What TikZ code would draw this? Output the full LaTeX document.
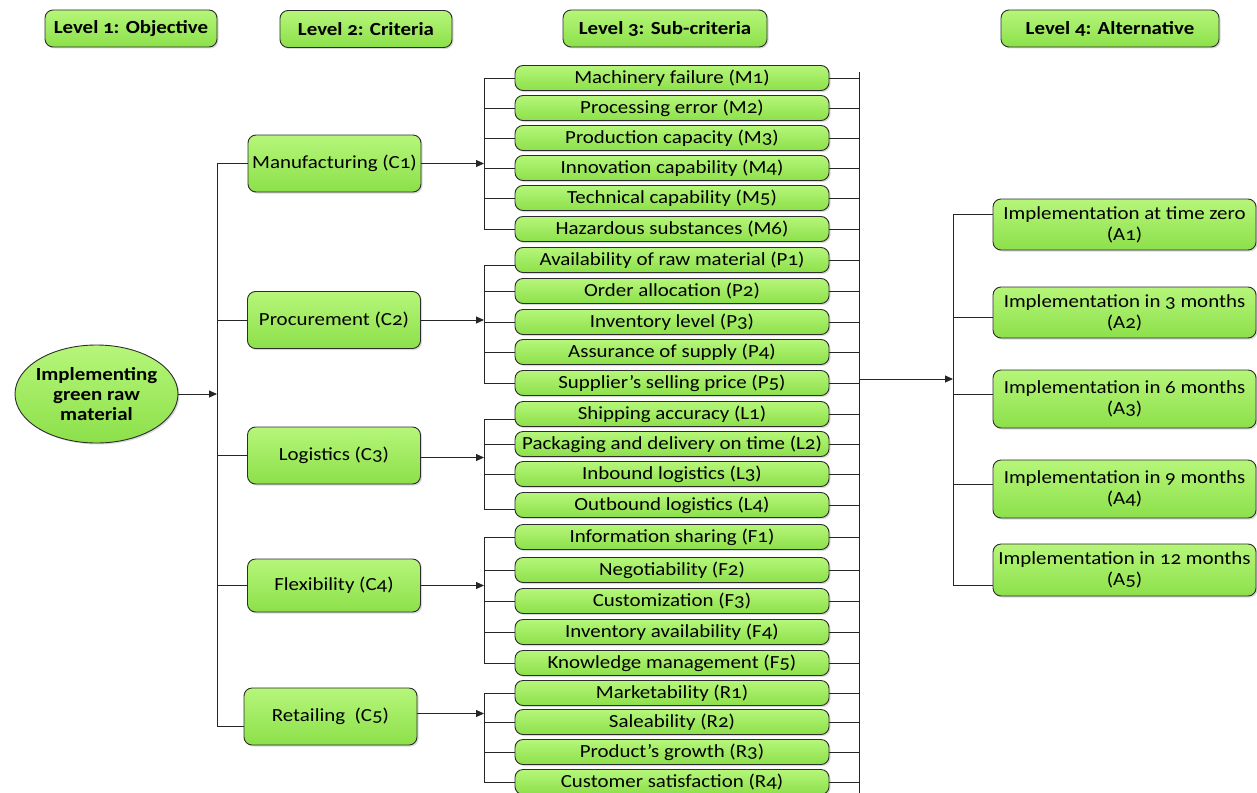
\documentclass[tikz,border=0pt]{standalone}
\usepackage{fontspec}
\setmainfont{Carlito}[Numbers=OldStyle,FakeStretch=1.13]
\usetikzlibrary{arrows.meta,shapes.geometric,shadows}
\definecolor{gtop}{RGB}{182,246,122}
\definecolor{gbot}{RGB}{140,224,74}
\definecolor{edgec}{RGB}{45,45,45}
\begin{document}
\begin{tikzpicture}[x=1pt,y=-1pt,
  box/.style={draw=edgec, line width=0.9pt, rounded corners=8pt, top color=gtop, bottom color=gbot,
    align=center, inner sep=0pt, font=\fontsize{18.5}{21}\selectfont,
    drop shadow={shadow xshift=1.5pt, shadow yshift=-1.5pt, opacity=0.3}},
  hdr/.style={box, font=\bfseries\fontsize{18.5}{21}\selectfont, minimum height=37pt},
  crit/.style={box, minimum width=173pt, minimum height=57pt},
  sub/.style={box, minimum width=314pt, minimum height=25pt},
  alt/.style={box, minimum width=263pt},
  conn/.style={draw=black!85, line width=1pt},
  arr/.style={conn, -{Triangle[length=8pt,width=7pt]}}]
\useasboundingbox (0,0) rectangle (1257,792);
% headers
\node[hdr, minimum width=172pt] (H1) at (131,28.5) {Level 1: Objective};
\node[hdr, minimum width=172pt] (H2) at (366,29) {Level 2: Criteria};
\node[hdr, minimum width=204pt] (H3) at (665,28.5) {Level 3: Sub-criteria};
\node[hdr, minimum width=218pt] (H4) at (1110,28.5) {Level 4: Alternative};
% objective
\node[box, ellipse, inner sep=-8pt, minimum width=163pt, minimum height=98pt, font=\bfseries\fontsize{18.5}{20}\selectfont] (obj) at (96.5,394) {Implementing\\green raw\\material};
% criteria
\node[crit] (C1) at (334.5,163.5) {Manufacturing (C1)};
\node[crit] (C2) at (334,320) {Procurement (C2)};
\node[crit] (C3) at (334,455.5) {Logistics (C3)};
\node[crit, minimum height=53pt] (C4) at (334,585.5) {Flexibility (C4)};
\node[crit] (C5) at (330.5,716.5) {Retailing\ \ (C5)};
% sub-criteria
\foreach \n/\yy/\t in {
  M1/78/{Machinery failure (M1)}, M2/108/{Processing error (M2)}, M3/138/{Production capacity (M3)},
  M4/168/{Innovation capability (M4)}, M5/198/{Technical capability (M5)}, M6/229/{Hazardous substances (M6)},
  P1/260/{Availability of raw material (P1)}, P2/291/{Order allocation (P2)}, P3/322/{Inventory level (P3)},
  P4/352/{Assurance of supply (P4)}, P5/383/{Supplier’s selling price (P5)},
  L1/414/{Shipping accuracy (L1)}, L2/444/{Packaging and delivery on time (L2)}, L3/474/{Inbound logistics (L3)},
  L4/505/{Outbound logistics (L4)},
  F1/537/{Information sharing (F1)}, F2/570/{Negotiability (F2)}, F3/601/{Customization (F3)},
  F4/632/{Inventory availability (F4)}, F5/663/{Knowledge management (F5)},
  R1/693/{Marketability (R1)}, R2/722/{Saleability (R2)}, R3/752/{Product’s growth (R3)},
  R4/782/{Customer satisfaction (R4)}}
  \node[sub] (\n) at (672,\yy) {\t};
% alternatives
\node[alt, minimum height=51pt] (A1) at (1124.5,224.5) {Implementation at time zero\\(A1)};
\node[alt, minimum height=51pt] (A2) at (1124.5,312.5) {Implementation in 3 months\\(A2)};
\node[alt, minimum height=58pt] (A3) at (1124.5,399) {Implementation in 6 months\\(A3)};
\node[alt, minimum height=58pt] (A4) at (1124.5,489) {Implementation in 9 months\\(A4)};
\node[alt, minimum height=52pt] (A5) at (1124.5,570) {Implementation in 12 months\\(A5)};
% bracket coordinates
\coordinate (b1) at (217,0);
\coordinate (b2) at (484,0);
\coordinate (b3) at (859,0);
\coordinate (b4) at (953,0);
% level 1 -> criteria
\draw[arr] (obj.east) -- (obj.east -| b1);
\draw[conn] (b1 |- C1) -- ([yshift=-10pt]b1 |- C5);
\foreach \c in {C1,C2,C3,C4} \draw[conn] (b1 |- \c) -- (\c.west);
\draw[conn] ([yshift=-10pt]b1 |- C5) -- ([yshift=-10pt]C5.west);
% criteria -> sub-criteria
\draw[arr] (C1.east) -- (C1.east -| b2);
\draw[conn] (b2 |- M1) -- (b2 |- M6);
\foreach \s in {M1,M2,M3,M4,M5,M6} \draw[conn] (b2 |- \s) -- (\s.west);
\draw[arr] (C2.east) -- (C2.east -| b2);
\draw[conn] ([yshift=-5pt]b2 |- P1) -- (b2 |- P5);
\draw[conn] ([yshift=-5pt]b2 |- P1) -- ([yshift=-5pt]P1.west);
\foreach \s in {P2,P3,P4,P5} \draw[conn] (b2 |- \s) -- (\s.west);
\draw[arr] ([yshift=-2pt]C3.east) -- ([yshift=-2pt]C3.east -| b2);
\draw[conn] ([yshift=-5pt]b2 |- L1) -- ([yshift=-4pt]b2 |- L4);
\draw[conn] ([yshift=-5pt]b2 |- L1) -- ([yshift=-5pt]L1.west);
\foreach \s in {L2,L3} \draw[conn] (b2 |- \s) -- (\s.west);
\draw[conn] ([yshift=-4pt]b2 |- L4) -- ([yshift=-4pt]L4.west);
\draw[arr] (C4.east) -- (C4.east -| b2);
\draw[conn] (b2 |- F1) -- (b2 |- F5);
\foreach \s in {F1,F2,F3,F4,F5} \draw[conn] (b2 |- \s) -- (\s.west);
\draw[arr] ([yshift=3pt]C5.east) -- ([yshift=3pt]C5.east -| b2);
\draw[conn] (b2 |- R1) -- (b2 |- R4);
\foreach \s in {R1,R2,R3,R4} \draw[conn] (b2 |- \s) -- (\s.west);
% sub-criteria -> right bracket
\draw[conn] ([yshift=6pt]b3 |- M1) -- ([yshift=-12pt]b3 |- R4);
\foreach \s in {M1,M2,M3,M4,M5,M6,P1,P2,P3,P4,P5,L1,L2,L3,L4,F1,F2,F3,F4,F5,R1,R2,R3,R4}
  \draw[conn] (\s.east) -- (\s.east -| b3);
\draw[arr] ([yshift=4pt]P5.east -| b3) -- ([yshift=4pt]P5.east -| b4);
% alternatives bracket
\draw[conn] ([yshift=10pt]b4 |- A1) -- ([yshift=-15pt]b4 |- A5);
\draw[conn] ([yshift=10pt]b4 |- A1) -- ([yshift=10pt]A1.west);
\draw[conn] ([yshift=-5pt]b4 |- A2) -- ([yshift=-5pt]A2.west);
\draw[conn] ([yshift=5pt]b4 |- A3) -- ([yshift=5pt]A3.west);
\draw[conn] ([yshift=5pt]b4 |- A4) -- ([yshift=5pt]A4.west);
\draw[conn] ([yshift=-15pt]b4 |- A5) -- ([yshift=-15pt]A5.west);
\end{tikzpicture}
\end{document}
